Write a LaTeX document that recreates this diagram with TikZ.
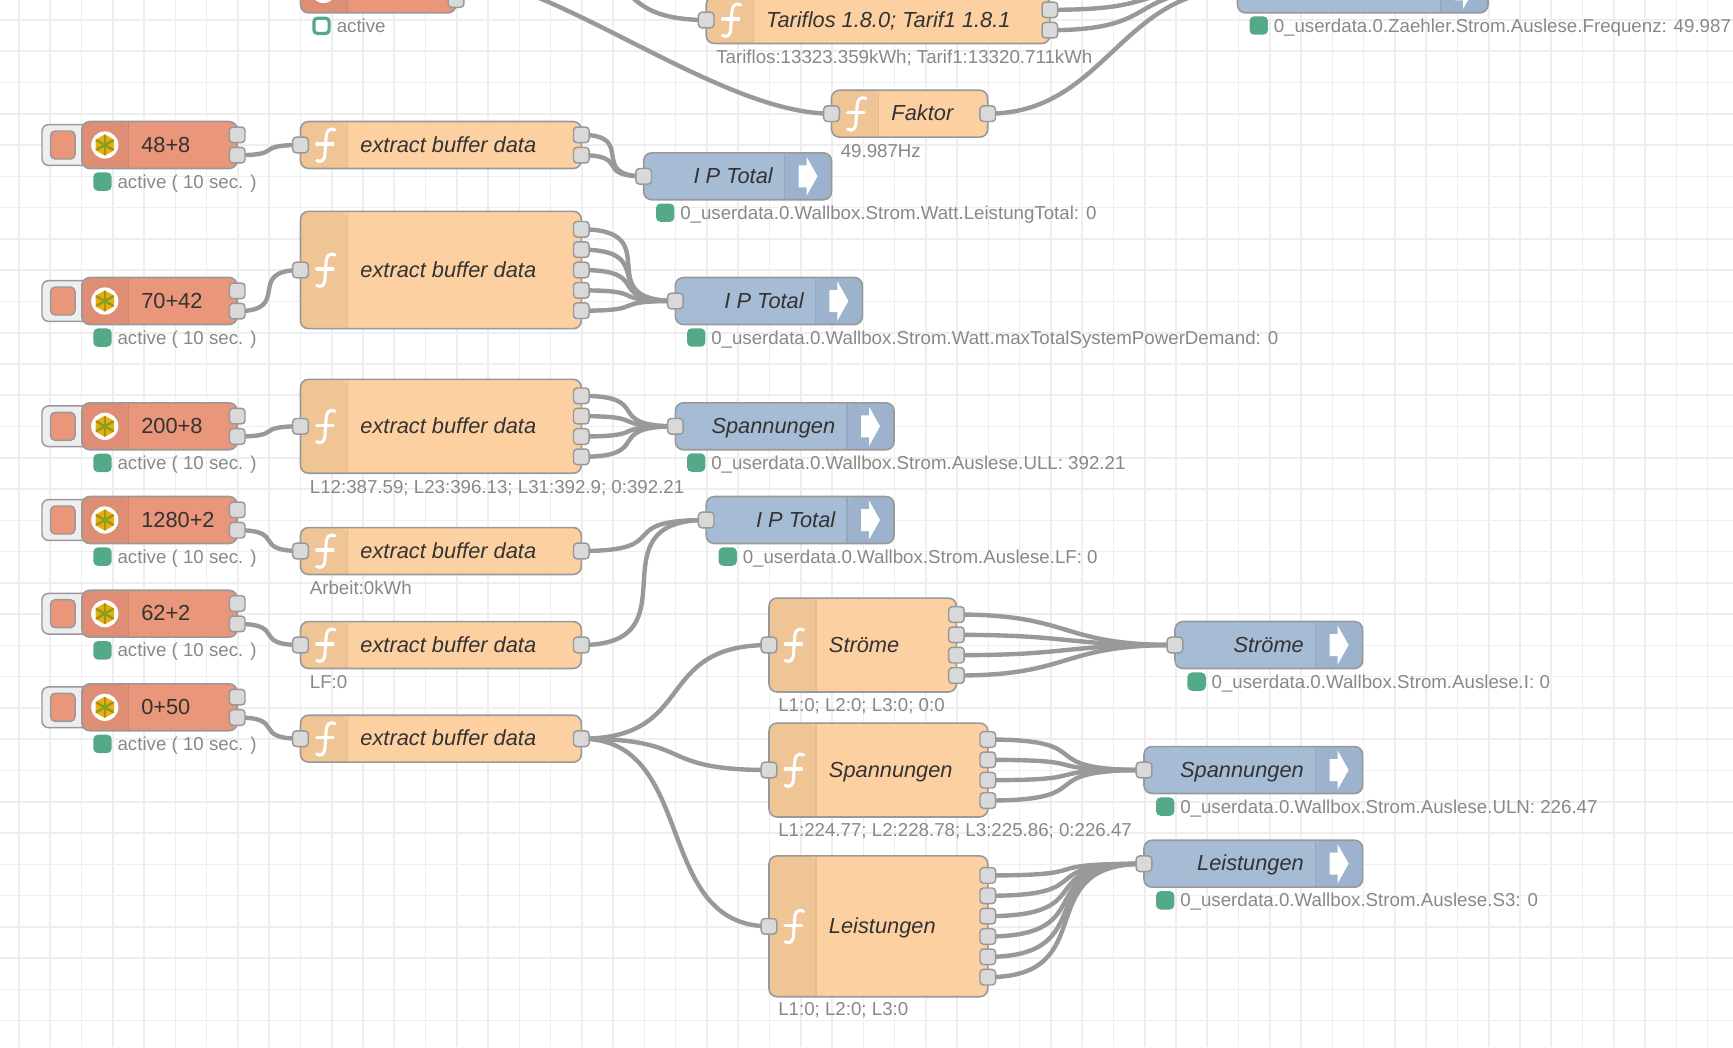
\documentclass[tikz,border=0pt]{standalone}
\usepackage{fontspec}
\setmainfont{Liberation Sans}
\usetikzlibrary{calc}

\pgfdeclarelayer{gridlayer}
\pgfdeclarelayer{wirelayer}
\pgfsetlayers{gridlayer,wirelayer,main}

\definecolor{gridgray}{HTML}{EEEEEE}
\definecolor{linegray}{HTML}{999999}
\definecolor{portgray}{HTML}{D9D9D9}
\definecolor{wiregray}{HTML}{999999}
\definecolor{labelgray}{HTML}{333333}
\definecolor{statusgray}{HTML}{888888}
\definecolor{statusgreen}{HTML}{53A988}
\definecolor{fnfill}{HTML}{FDD0A2}
\definecolor{fndark}{HTML}{F0C596}
\definecolor{fnline}{HTML}{E6BB8E}
\definecolor{injfill}{HTML}{E9967A}
\definecolor{injdark}{HTML}{DD8E74}
\definecolor{injline}{HTML}{CF8670}
\definecolor{outfill}{HTML}{A6BBD4}
\definecolor{outdark}{HTML}{9DB2CC}
\definecolor{outline}{HTML}{92A7C0}
\definecolor{iconyellow}{HTML}{F2A90F}
\definecolor{iconspoke}{HTML}{8A9E1E}

\tikzset{
    gridline/.style={draw=gridgray, line width=1.2pt},
    nodebox/.style={draw=linegray, line width=1.2pt, rounded corners=6pt, inner sep=0pt, minimum height=35.2pt},
    leftstrip/.style 2 args={path picture={
        \fill[#1] (path picture bounding box.north west) rectangle ++(35.25pt,-120pt);
        \draw[#2, line width=.8pt] ([xshift=35.25pt]path picture bounding box.north west) -- ++(0,-120pt);}},
    rightstrip/.style 2 args={path picture={
        \fill[#1] (path picture bounding box.north east) rectangle ++(-35.25pt,-120pt);
        \draw[#2, line width=.8pt] ([xshift=-35.25pt]path picture bounding box.north east) -- ++(0,-120pt);}},
    port/.style={draw=linegray, fill=portgray, line width=1.1pt, rounded corners=2.6pt, inner sep=0pt, minimum size=11.7pt},
    wire/.style={draw=wiregray, line width=3.3pt},
    nodelabel/.style={text=labelgray, inner sep=0pt, text height=11.8pt, text depth=0pt, font=\fontsize{16.35}{20}\selectfont},
    statustext/.style={text=statusgray, inner sep=0pt, anchor=west, text height=10pt, text depth=0pt, font=\fontsize{14.03}{17}\selectfont},
    statusdot/.style={fill=statusgreen, rounded corners=3.4pt, inner sep=0pt, minimum size=13.8pt},
    statusring/.style={draw=statusgreen, fill=white, line width=2.4pt, rounded corners=2.6pt, inner sep=0pt, minimum size=11.4pt},
    fnglyph/.style={draw=white, line width=2.3pt, line cap=round},
}

% function node: name, left, right, y, label, outputs
\newcommand{\fnbox}[6]{
    \pgfmathsetmacro{\boxh}{max(46.9,#6*23.47)*0.75}
    \node[nodebox, fill=fnfill, leftstrip={fndark}{fnline}, minimum width={(#3-#2)*0.75pt}, minimum height=\boxh pt] (#1) at ({(#2+#3)/2},#4) {};
    \begin{scope}[shift={(#2+24,#4)}]
        \draw[fnglyph] (10.5,-15) .. controls (4,-18) and (1.5,-13) .. (1.5,-6) -- (0.5,8) .. controls (0.5,15) and (-3,18) .. (-7.8,15.5);
        \draw[fnglyph] (-7.8,-1) -- (8.5,-1);
    \end{scope}
    \node[nodelabel, anchor=west, font=\fontsize{16.35}{20}\selectfont\itshape] (#1-l) at (#2+59.7,#4-.7) {#5};
    \node[port] (#1-i) at (#2,#4) {};
    \foreach \k in {1,...,#6} {
        \node[port] (#1-o\k) at (#3,{#4+(\k-(#6+1)/2)*20.35}) {};
    }
}

% inject node: name, left, right, y, label
\newcommand{\injbox}[5]{
    \node[nodebox, fill=injfill, leftstrip={injdark}{injline}, minimum width={(#3-#2)*0.75pt}] (#1) at ({(#2+#3)/2},#4) {};
    \begin{scope}[shift={(#2+23,#4)}]
        \fill[white] (0,0) circle (10.2pt);
        \fill[iconyellow] (30:8pt) -- (90:8pt) -- (150:8pt) -- (210:8pt) -- (270:8pt) -- (330:8pt) -- cycle;
        \foreach \a in {30,90,...,330} {
            \draw[draw=iconspoke, line width=1.8pt, line cap=round] (0,0) -- (\a:7pt);
        }
    \end{scope}
    \node[nodelabel, anchor=west] (#1-l) at (#2+59.2,#4-.7) {#5};
    \node[port] (#1-o1) at (#3,#4-10.17) {};
    \node[port] (#1-o2) at (#3,#4+10.17) {};
}

% button in front of an inject node
\newcommand{\injbutton}[2]{
    \node[draw=linegray, fill=gridgray, line width=1.1pt, rounded corners=5pt, inner sep=0pt, minimum width=36pt, minimum height=30.6pt] (#1-b) at (66,#2) {};
    \node[draw=linegray, fill=injfill, line width=1.1pt, rounded corners=3.5pt, inner sep=0pt, minimum width=18.4pt, minimum height=21pt] (#1-k) at (62.8,#2) {};
}

% output node: name, left, right, y, label
\newcommand{\outbox}[5]{
    \node[nodebox, fill=outfill, rightstrip={outdark}{outline}, minimum width={(#3-#2)*0.75pt}] (#1) at ({(#2+#3)/2},#4) {};
    \fill[white] (#3-33,#4-11) -- (#3-25,#4-11) -- (#3-25,#4-19.6) -- (#3-14,#4) -- (#3-25,#4+19.6) -- (#3-25,#4+11) -- (#3-33,#4+11) -- cycle;
    \node[nodelabel, anchor=east, font=\fontsize{16.35}{20}\selectfont\itshape] (#1-l) at (#3-58.5,#4-.7) {#5};
    \node[port] (#1-i) at (#2,#4) {};
}

% status: name, left of dot, y, text
\newcommand{\statusline}[4]{
    \node[statusdot] (#1-d) at (#2+9.2,#3) {};
    \node[statustext] (#1-s) at (#2+24,#3) {#4};
}

% wire between two ports, under the nodes
\newcommand{\wire}[2]{
    \begin{pgfonlayer}{wirelayer}
    \draw[wire] let \p1=($(#1.center)-(#2.center)$), \n1={min(87.8pt,0.75*veclen(\x1,\y1))} in (#1.center) to[out=0,in=180,distance={\n1}] (#2.center);
    \end{pgfonlayer}
}

\begin{document}
\begin{tikzpicture}[x=0.75pt, y=-0.75pt]

\useasboundingbox (0,0) rectangle (1733,1047);

% Grid

\begin{pgfonlayer}{gridlayer}
\fill[white] (0,0) rectangle (1733,1047);
\foreach \g in {0,...,55} {
    \draw[gridline] ({19+31.27*\g},0) -- ({19+31.27*\g},1047);
}
\foreach \g in {0,...,33} {
    \draw[gridline] (0,{20+31.27*\g}) -- (1733,{20+31.27*\g});
}
\end{pgfonlayer}

% Top row, cut by the page edge

\coordinate (srcTar) at (530,-60);
\coordinate (srcFak) at (430,-30);

\injbox{injTop}{300.5}{456}{-10.6}{}
\node[statusring] (injTop-d) at (321.5,25.8) {};
\node[statustext] (injTop-s) at (336.5,25.8) {active};

\fnbox{tar}{706.2}{1049.8}{20}{Tariflos 1.8.0; Tarif1 1.8.1}{2}
\node[statustext] (tar-s) at (716,56.8) {Tariflos:13323.359kWh; Tarif1:13320.711kWh};

\fnbox{fak}{831.5}{987.7}{113.7}{Faktor}{1}
\node[statustext] (fak-s) at (840.5,150.8) {49.987Hz};

\outbox{freq}{1237.5}{1488}{-10.6}{}
\statusline{freq}{1249.5}{25.5}{0\_userdata.0.Zaehler.Strom.Auslese.Frequenz: 49.987}

% Inject nodes

\foreach \nm/\yc/\txt in {inj48/145/48+8, inj70/301/70+42, inj200/426.3/200+8, inj1280/520/1280+2, inj62/613.7/62+2, inj0/707.3/0+50} {
    \injbutton{\nm}{\yc}
    \injbox{\nm}{81.8}{237.2}{\yc}{\txt}
    \statusline{\nm}{93.3}{\yc+36.6}{active ( 10 sec. )}
}

% Buffer functions

\fnbox{fnA}{300.5}{581.3}{145}{extract buffer data}{2}
\fnbox{fnB}{300.5}{581.3}{270}{extract buffer data}{5}
\fnbox{fnC}{300.5}{581.3}{426.3}{extract buffer data}{4}
\fnbox{fnD}{300.5}{581.3}{551}{extract buffer data}{1}
\fnbox{fnE}{300.5}{581.3}{645}{extract buffer data}{1}
\fnbox{fnF}{300.5}{581.3}{738.7}{extract buffer data}{1}

\node[statustext] (fnC-s) at (309.6,486.8) {L12:387.59; L23:396.13; L31:392.9; 0:392.21};
\node[statustext] (fnD-s) at (309.6,588.2) {Arbeit:0kWh};
\node[statustext] (fnE-s) at (309.6,681.7) {LF:0};

% Second stage functions

\fnbox{fnI}{769}{956.4}{645}{Ströme}{4}
\fnbox{fnU}{769}{987.8}{770}{Spannungen}{4}
\fnbox{fnS}{769}{987.8}{926.3}{Leistungen}{6}

\node[statustext] (fnI-s) at (778,705.2) {L1:0; L2:0; L3:0; 0:0};
\node[statustext] (fnU-s) at (778,829.7) {L1:224.77; L2:228.78; L3:225.86; 0:226.47};
\node[statustext] (fnS-s) at (778,1009.2) {L1:0; L2:0; L3:0};

% Output nodes

\outbox{ipA}{643.7}{831.5}{176.3}{I P Total}
\statusline{ipA}{656}{212.7}{0\_userdata.0.Wallbox.Strom.Watt.LeistungTotal: 0}

\outbox{ipB}{675.4}{862.4}{301}{I P Total}
\statusline{ipB}{687}{337.5}{0\_userdata.0.Wallbox.Strom.Watt.maxTotalSystemPowerDemand: 0}

\outbox{outU}{675.4}{894}{426.3}{Spannungen}
\statusline{outU}{687}{462.6}{0\_userdata.0.Wallbox.Strom.Auslese.ULL: 392.21}

\outbox{ipC}{706.2}{894}{520}{I P Total}
\statusline{ipC}{718.5}{556.6}{0\_userdata.0.Wallbox.Strom.Auslese.LF: 0}

\outbox{outI}{1175}{1362.6}{645}{Ströme}
\statusline{outI}{1187.4}{681.6}{0\_userdata.0.Wallbox.Strom.Auslese.I: 0}

\outbox{outN}{1144}{1362.6}{770}{Spannungen}
\statusline{outN}{1156}{806.6}{0\_userdata.0.Wallbox.Strom.Auslese.ULN: 226.47}

\outbox{outS}{1144}{1362.6}{863.7}{Leistungen}
\statusline{outS}{1156}{900.3}{0\_userdata.0.Wallbox.Strom.Auslese.S3: 0}

% Wires

\wire{srcTar}{tar-i}
\wire{srcFak}{fak-i}
\wire{tar-o1}{freq-i}
\wire{tar-o2}{freq-i}
\wire{fak-o1}{freq-i}

\foreach \a/\b in {inj48/fnA, inj70/fnB, inj200/fnC, inj1280/fnD, inj62/fnE, inj0/fnF} {
    \wire{\a-o2}{\b-i}
}

\foreach \k in {1,2} { \wire{fnA-o\k}{ipA-i} }
\foreach \k in {1,...,5} { \wire{fnB-o\k}{ipB-i} }
\foreach \k in {1,...,4} { \wire{fnC-o\k}{outU-i} }
\wire{fnD-o1}{ipC-i}
\wire{fnE-o1}{ipC-i}

\wire{fnF-o1}{fnI-i}
\wire{fnF-o1}{fnU-i}
\wire{fnF-o1}{fnS-i}

\foreach \k in {1,...,4} { \wire{fnI-o\k}{outI-i} }
\foreach \k in {1,...,4} { \wire{fnU-o\k}{outN-i} }
\foreach \k in {1,...,6} { \wire{fnS-o\k}{outS-i} }

\end{tikzpicture}
\end{document}
